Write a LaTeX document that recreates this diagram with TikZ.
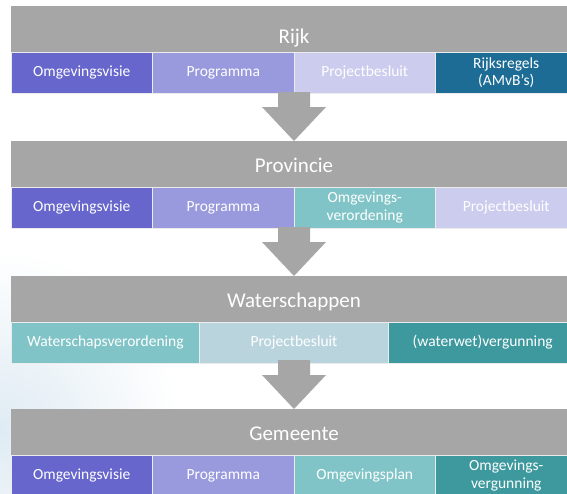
\documentclass[tikz,border=0pt]{standalone}
\usepackage{fontspec}
\setmainfont{Carlito}
\usepackage{tikz}
\usetikzlibrary{positioning}

\definecolor{layergray}{HTML}{A6A6A6}
\definecolor{visie}{HTML}{6666CC}
\definecolor{prog}{HTML}{9999DD}
\definecolor{projlav}{HTML}{CCCCEE}
\definecolor{rijksblue}{HTML}{1D6C96}
\definecolor{teallight}{HTML}{80C4C7}
\definecolor{projwater}{HTML}{BAD4DE}
\definecolor{tealdark}{HTML}{3D999E}
\definecolor{sky}{HTML}{DFEBF3}

\begin{document}
\begin{tikzpicture}[
    x=1pt, y=-1pt,
    node distance=0pt,
    layer/.style={fill=layergray, minimum width=566pt, minimum height=46pt, inner sep=0pt, outer sep=0pt,
      text height=17pt, text depth=1pt, text=white, font=\fontsize{21pt}{24pt}\selectfont},
    block/.style={fill=#1, draw=white!85!gray, line width=0.6pt, minimum width=141.5pt, minimum height=41pt,
      inner sep=0pt, outer sep=0pt, text=white, align=center, font=\fontsize{15.5pt}{17.5pt}\selectfont},
    wblock/.style={block=#1, minimum width=188.67pt},
    bigarrow/.style={fill=layergray},
  ]
  \useasboundingbox (0,0) rectangle (567,493);
  \clip (0,0) rectangle (567,493);

  % ---- background sky ----
  \shade[inner color=sky, outer color=white] (0,430) circle (180);

  % ---- Rijk ----
  \node[layer, anchor=north west, text height=30pt] (rijk) at (11,6) {Rijk};
  \node[block=visie, anchor=north west] (rijkVisie) at (rijk.south west) {Omgevingsvisie};
  \node[block=prog, right=of rijkVisie] (rijkProg) {Programma};
  \node[block=projlav, right=of rijkProg] (rijkProj) {Projectbesluit};
  \node[block=rijksblue, right=of rijkProj] (rijkRegels) {Rijksregels\\(AMvB’s)};

  % ---- Provincie ----
  \node[layer, anchor=north west] (prov) at ([yshift=-135pt]rijk.north west) {Provincie};
  \node[block=visie, anchor=north west] (provVisie) at (prov.south west) {Omgevingsvisie};
  \node[block=prog, right=of provVisie] (provProg) {Programma};
  \node[block=teallight, right=of provProg] (provVerord) {Omgevings-\\verordening};
  \node[block=projlav, right=of provVerord] (provProj) {Projectbesluit};

  % ---- Waterschappen ----
  \node[layer, anchor=north west] (water) at ([yshift=-135pt]prov.north west) {Waterschappen};
  \node[wblock=teallight, anchor=north west] (waterVerord) at (water.south west) {Waterschapsverordening};
  \node[wblock=projwater, right=of waterVerord] (waterProj) {Projectbesluit};
  \node[wblock=tealdark, right=of waterProj] (waterVerg) {(waterwet)vergunning};

  % ---- Gemeente ----
  \node[layer, anchor=north west] (gem) at ([yshift=-133pt]water.north west) {Gemeente};
  \node[block=visie, anchor=north west] (gemVisie) at (gem.south west) {Omgevingsvisie};
  \node[block=prog, right=of gemVisie] (gemProg) {Programma};
  \node[block=teallight, right=of gemProg] (gemPlan) {Omgevingsplan};
  \node[block=tealdark, right=of gemPlan] (gemVerg) {Omgevings-\\vergunning};

  % ---- Block arrows between layers ----
  \foreach \nxt in {prov, water, gem} {
    \fill[bigarrow] (\nxt.north) -- ++(-32,-34) -- ++(16,0) -- ++(0,-15)
      -- ++(32,0) -- ++(0,15) -- ++(16,0) -- cycle;
  }

\end{tikzpicture}
\end{document}
